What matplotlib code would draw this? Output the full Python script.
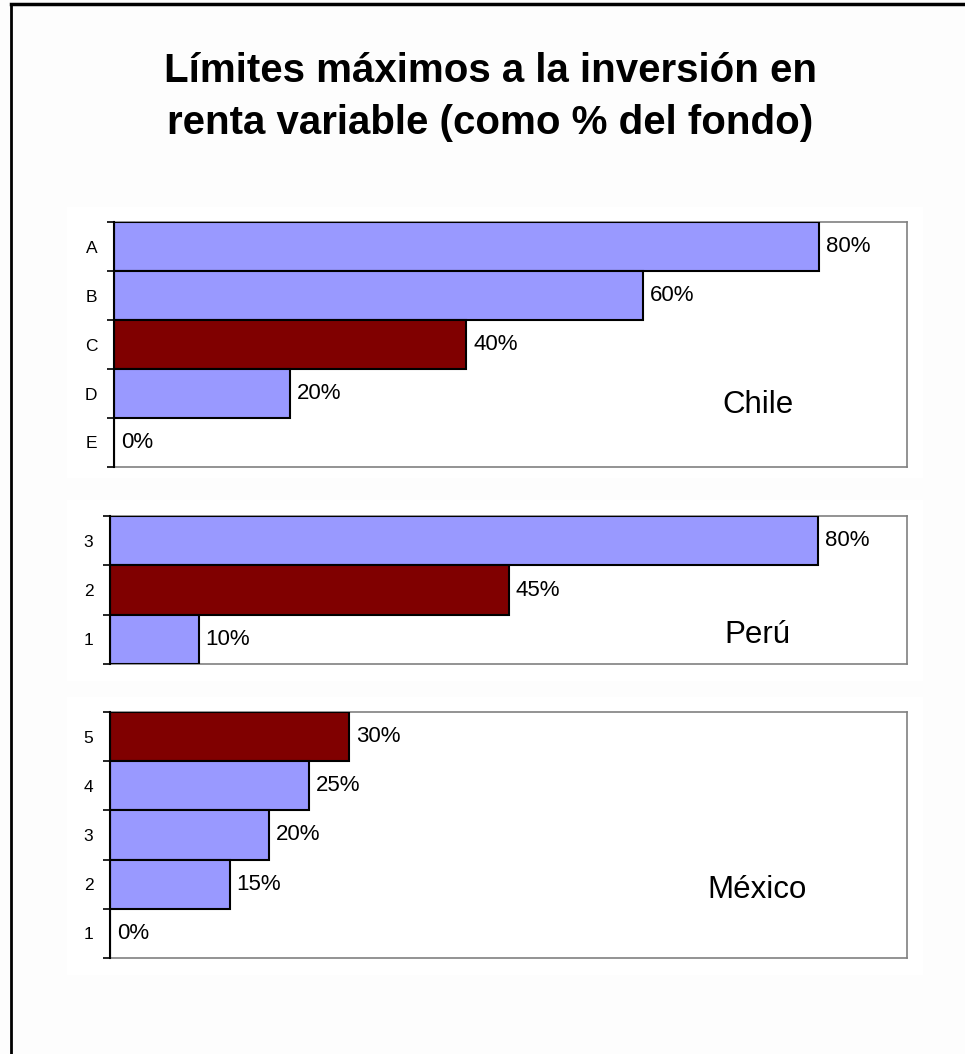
import matplotlib.pyplot as plt
from matplotlib.patches import Rectangle
from matplotlib.lines import Line2D

plt.rcParams["font.family"] = ["Liberation Sans", "DejaVu Sans"]

# data
title = "Límites máximos a la inversión en\nrenta variable (como % del fondo)"

chile_cats = ["A", "B", "C", "D", "E"]
chile_vals = [80, 60, 40, 20, 0]
chile_hi = "C"

peru_cats = ["3", "2", "1"]
peru_vals = [80, 45, 10]
peru_hi = "2"

mexico_cats = ["5", "4", "3", "2", "1"]
mexico_vals = [30, 25, 20, 15, 0]
mexico_hi = "5"

W, H = 965, 1054
BLUE = "#9999FF"
RED = "#800000"


def fig_rect(left, top, right, bottom):
    return [left / W, 1 - bottom / H, (right - left) / W, (bottom - top) / H]


def panel(fig, box, back, cats, vals, hi, xmax, country, country_xy):
    # white chart area behind the plot
    fig.patches.append(Rectangle((back[0] / W, 1 - back[3] / H),
                                 (back[2] - back[0]) / W, (back[3] - back[1]) / H,
                                 transform=fig.transFigure, facecolor="white",
                                 edgecolor="none", zorder=-5))
    ax = fig.add_axes(fig_rect(*box))
    n = len(cats)
    pos = list(range(n))
    colors = [RED if c == hi else BLUE for c in cats]
    ax.barh(pos, vals, height=1.0, color=colors, edgecolor="black",
            linewidth=1.5, zorder=3)
    for p, v in zip(pos, vals):
        ax.annotate(f"{v}%", (v, p), xytext=(5, 0), textcoords="offset points",
                    va="center", ha="left", fontsize=16)
    ax.set_xlim(0, xmax)
    ax.set_ylim(n - 0.5, -0.5)
    ax.set_xticks([])
    ax.set_yticks(pos)
    ax.set_yticklabels(cats, fontsize=12.5)
    ax.set_yticks([p - 0.5 for p in range(n + 1)], minor=True)
    ax.tick_params(axis="y", which="major", length=0, pad=12)
    ax.tick_params(axis="y", which="minor", length=5, width=1.2, color="black")
    for s in ["top", "right", "bottom"]:
        ax.spines[s].set_color("#808080")
        ax.spines[s].set_linewidth(1.2)
    ax.spines["left"].set_color("black")
    ax.spines["left"].set_linewidth(1.5)
    ax.spines["left"].set_zorder(4)
    ax.set_facecolor("white")
    ax.text(country_xy[0] / W, 1 - country_xy[1] / H, country, fontsize=22.5,
            ha="center", va="center", transform=fig.transFigure, zorder=5)
    return ax


fig = plt.figure(figsize=(W / 100, H / 100), dpi=100)
fig.patch.set_facecolor("#fdfdfd")

fig.text(490 / W, 1 - 97 / H, title, ha="center", va="center",
         fontsize=29, fontweight="bold", linespacing=1.44)

panel(fig, (114, 222, 907, 467), (67, 207, 923, 478), chile_cats, chile_vals,
      chile_hi, 90, "Chile", (758, 405))
panel(fig, (110, 516, 907, 664), (67, 500, 923, 681), peru_cats, peru_vals,
      peru_hi, 90, "Perú", (757, 635))
panel(fig, (110, 712, 907, 958), (67, 697, 923, 975), mexico_cats, mexico_vals,
      mexico_hi, 100, "México", (757, 890))

# outer frame (left and top only)
fig.add_artist(Line2D([11 / W, 11 / W], [0, 1 - 4 / H], transform=fig.transFigure,
                      color="black", linewidth=2))
fig.add_artist(Line2D([11 / W, 1], [1 - 4 / H, 1 - 4 / H], transform=fig.transFigure,
                      color="black", linewidth=2.5))

plt.savefig("out.png", dpi=100)
plt.close()
